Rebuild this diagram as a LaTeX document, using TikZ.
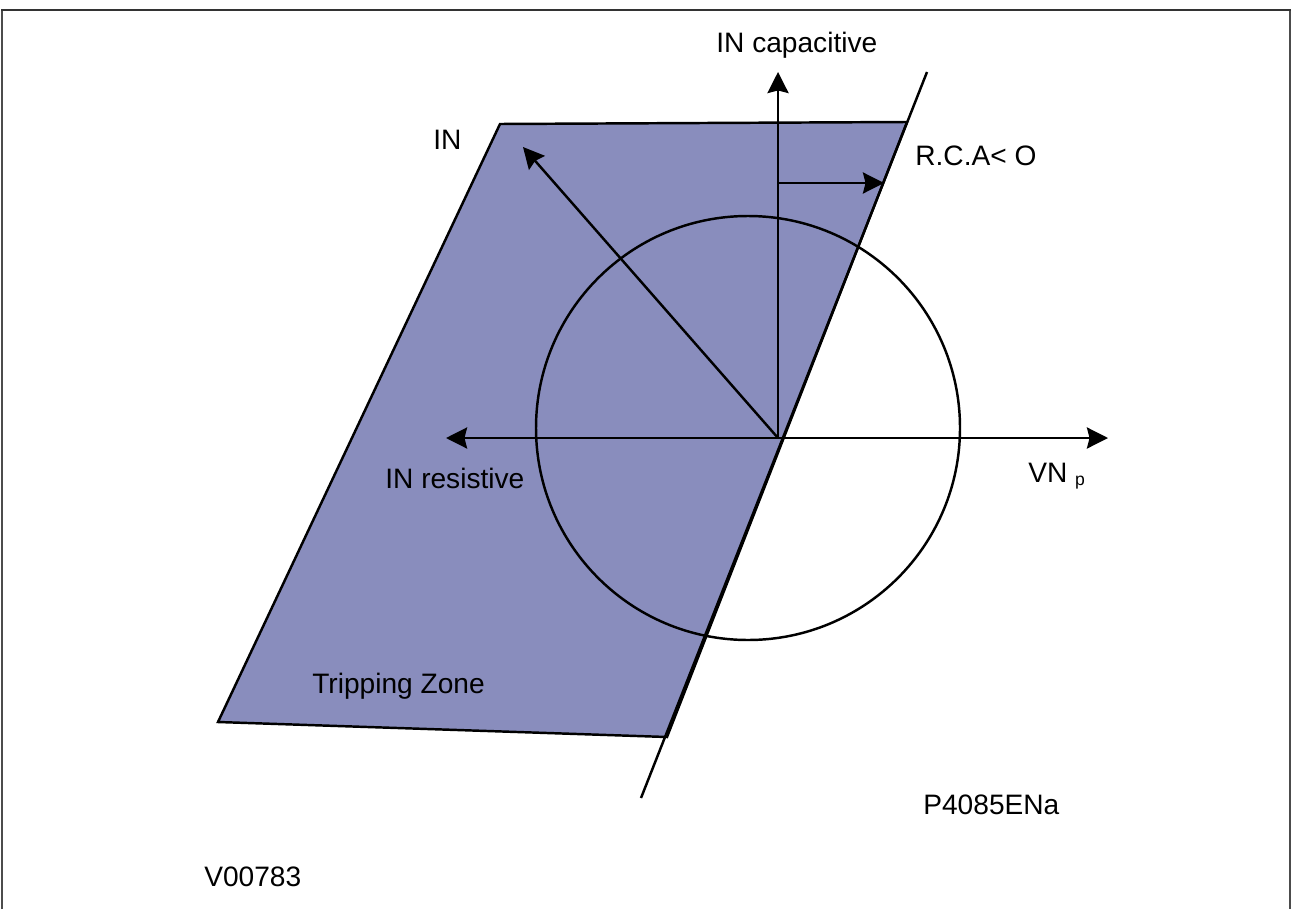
\documentclass[tikz,border=0pt]{standalone}
\usepackage{fontspec}
\setmainfont{Liberation Sans}
\usetikzlibrary{arrows.meta, positioning, calc}
\definecolor{zonefill}{RGB}{137,141,189}

\begin{document}
\begin{tikzpicture}[
  x=0.02cm, y=-0.02cm,
  font=\fontsize{16}{19}\selectfont,
  vecarrow/.style={-{Stealth[length=12pt, width=12pt, inset=1.5pt]}, line width=1.4pt},
  plainline/.style={line width=1.4pt},
  zone/.style={fill=zonefill, draw=black, line width=1.4pt, line join=miter},
  lbl/.style={inner sep=0pt, anchor=base west}
]
\useasboundingbox (0,0) rectangle (1293,909);

% ── Frame ───────────────────────────────────────────────────
\draw[gray!60!black, line width=0.8pt] (2,909) -- (2,10) (1290,10) -- (1290,909);
\draw[gray!40!black, line width=1.6pt] (1,10) -- (1291,10);

% ── Tripping zone ───────────────────────────────────────────
\draw[zone] (500,124) -- (907,122) -- (667,737) -- (218,722) -- cycle;

% ── Key points ──────────────────────────────────────────────
\coordinate (O)    at (778,438);
\coordinate (capT) at (778,72);
\coordinate (resT) at (446,438);
\coordinate (vnT)  at (1108,438);
\coordinate (inT)  at (523,147);
\coordinate (rcaS) at (778,183);
\coordinate (rcaT) at (884,183);
\coordinate (bndA) at (927,72);
\coordinate (bndB) at (641,798);

% ── Characteristic circle and boundary ──────────────────────
\draw[plainline] (748,428) circle[radius=212];
\draw[plainline] (bndA) -- (bndB);

% ── Vectors ─────────────────────────────────────────────────
\draw[vecarrow] (O) -- (capT);
\draw[vecarrow] (O) -- (resT);
\draw[vecarrow] (O) -- (vnT);
\draw[vecarrow] (O) -- (inT);
\draw[vecarrow] (rcaS) -- (rcaT);

% ── Labels ──────────────────────────────────────────────────
\node[lbl] (capLbl) at (716,52)  {IN capacitive};
\node[lbl] (inLbl)  at (433,149) {IN};
\node[lbl] (rcaLbl) at (915,165) {R.C.A< O};
\node[lbl] (resLbl) at (385,488) {IN resistive};
\node[lbl] (vnLbl)  at (1028,482) {VN \raisebox{-2pt}{\fontsize{10}{12}\selectfont p}};
\node[lbl] (tzLbl)  at (312,693) {Tripping Zone};
\node[lbl] (figLbl) at (923,814) {P4085ENa};
\node[lbl] (refLbl) at (204,886) {V00783};

\end{tikzpicture}
\end{document}
